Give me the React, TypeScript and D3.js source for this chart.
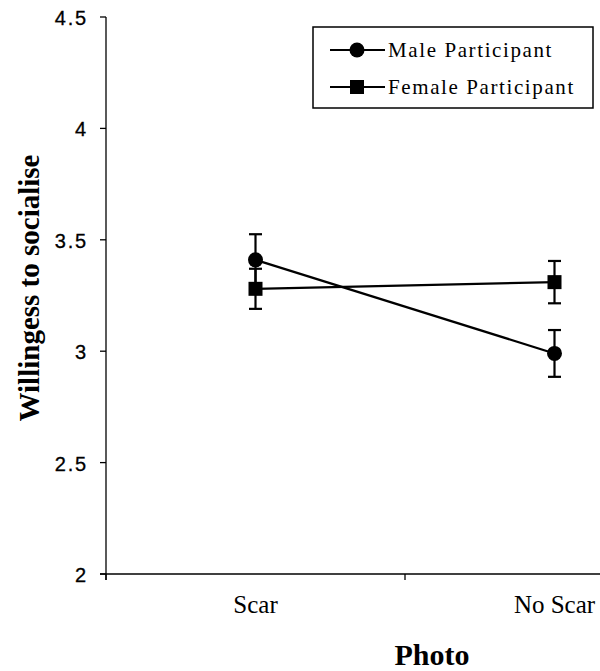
import React from "react";
import * as d3 from "d3";

const categories = ["Scar", "No Scar"];
const maleMeans = [3.41, 2.99];
const maleErr = [0.115, 0.105];
const femaleMeans = [3.28, 3.31];
const femaleErr = [0.09, 0.095];
const yTicks = [2, 2.5, 3, 3.5, 4, 4.5];
const seriesNames = ["Male Participant", "Female Participant"];

const W = 600;
const H = 671;
const AXIS_X = 106;
const AXIS_Y = 574;

export default function App() {
  const x = d3.scaleBand<string>().domain(categories).range([AXIS_X, 704]).padding(0);
  const y = d3.scaleLinear().domain([2, 4.5]).range([AXIS_Y, 17]);
  const cx = (c: string) => (x(c) as number) + x.bandwidth() / 2;
  const line = d3
    .line<number>()
    .x((_, i) => cx(categories[i]))
    .y((d) => y(d));

  const series = [
    { name: seriesNames[0], means: maleMeans, errs: maleErr, shape: "circle" },
    { name: seriesNames[1], means: femaleMeans, errs: femaleErr, shape: "square" },
  ];

  const boundaries = [...categories.map((c) => x(c) as number), 704];
  const serif = "'Liberation Serif', 'Times New Roman', serif";
  const sans = "'Liberation Sans', Arial, sans-serif";

  const marker = (shape: string, px: number, py: number, key: string) =>
    shape === "circle" ? (
      <circle key={key} cx={px} cy={py} r={7.5} fill="#000" />
    ) : (
      <rect key={key} x={px - 7} y={py - 7} width={14} height={14} fill="#000" />
    );

  return (
    <svg
      width={W}
      height={H}
      style={{ position: "absolute", left: 0, top: 0, background: "#fff" }}
    >
      <rect x={0} y={0} width={W} height={H} fill="#fff" />
      {/* Y axis */}
      <line x1={AXIS_X} x2={AXIS_X} y1={y(4.5)} y2={AXIS_Y + 6} stroke="#000" strokeWidth={1.3} />
      {yTicks.map((t) => (
        <g key={t}>
          <line x1={AXIS_X - 6} x2={AXIS_X} y1={y(t)} y2={y(t)} stroke="#000" strokeWidth={1.3} />
          <text
            x={88}
            y={y(t) + 1}
            dy="0.35em"
            textAnchor="end"
            fontFamily={sans}
            fontSize={20}
            letterSpacing={1.8}
            stroke="#000"
            strokeWidth={0.3}
            fill="#000"
          >
            {String(t)}
          </text>
        </g>
      ))}
      {/* X axis */}
      <line x1={AXIS_X - 6} x2={W} y1={AXIS_Y} y2={AXIS_Y} stroke="#000" strokeWidth={1.3} />
      {boundaries.map((b, i) => (
        <line key={i} x1={b} x2={b} y1={AXIS_Y} y2={AXIS_Y + 6} stroke="#000" strokeWidth={1.3} />
      ))}
      {categories.map((c) => (
        <text
          key={c}
          x={cx(c)}
          y={613}
          textAnchor="middle"
          fontFamily={serif}
          fontSize={25}
          fill="#000"
        >
          {c}
        </text>
      ))}
      <text
        x={432}
        y={665}
        textAnchor="middle"
        fontFamily={serif}
        fontWeight="bold"
        fontSize={30}
        fill="#000"
      >
        Photo
      </text>
      <text
        transform={`translate(39,288) rotate(-90)`}
        textAnchor="middle"
        fontFamily={serif}
        fontWeight="bold"
        fontSize={29}
        fill="#000"
      >
        Willingess to socialise
      </text>

      {/* Lines */}
      {series.map((s) => (
        <path key={s.name + "l"} d={line(s.means) || ""} fill="none" stroke="#000" strokeWidth={2.2} />
      ))}
      {/* Error bars */}
      {series.map((s) =>
        s.means.map((m, i) => {
          const px = cx(categories[i]);
          const top = y(m + s.errs[i]);
          const bot = y(m - s.errs[i]);
          return (
            <g key={s.name + "e" + i} stroke="#000" strokeWidth={2.2}>
              <line x1={px} x2={px} y1={top} y2={bot} />
              <line x1={px - 6.5} x2={px + 6.5} y1={top} y2={top} />
              <line x1={px - 6.5} x2={px + 6.5} y1={bot} y2={bot} />
            </g>
          );
        })
      )}
      {/* Markers */}
      {series.map((s) => s.means.map((m, i) => marker(s.shape, cx(categories[i]), y(m), s.name + "m" + i)))}

      {/* Legend */}
      <rect x={313} y={27} width={280} height={81} fill="#fff" stroke="#000" strokeWidth={1.5} />
      {series.map((s, i) => {
        const ly = 50 + i * 37;
        return (
          <g key={s.name + "leg"}>
            <line x1={330} x2={385} y1={ly} y2={ly} stroke="#000" strokeWidth={2.2} />
            {marker(s.shape, 357, ly, s.name + "lm")}
            <text
              x={388}
              y={ly}
              dy="0.33em"
              fontFamily={serif}
              fontSize={21}
              letterSpacing={1.6}
              fill="#000"
            >
              {s.name}
            </text>
          </g>
        );
      })}
    </svg>
  );
}
